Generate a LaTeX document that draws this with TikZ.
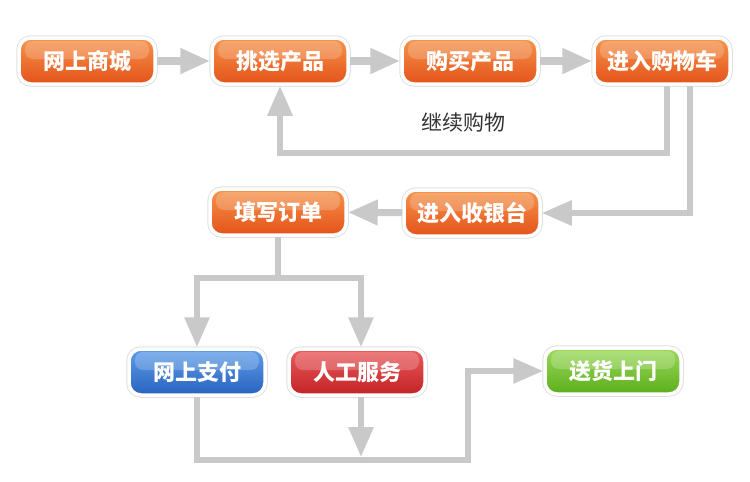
\documentclass[tikz,border=0pt]{standalone}
\usepackage{fontspec}
\newfontfamily\cjk{Noto Sans CJK SC}
\usetikzlibrary{arrows.meta}

\definecolor{linegray}{HTML}{C9C9C9}
\definecolor{ortop}{HTML}{F6954C}
\definecolor{ormid}{HTML}{F26C22}
\definecolor{orbot}{HTML}{E4521A}

\tikzset{
  box/.style={rounded corners=12pt, minimum width=136pt, minimum height=46pt,
    text=white, font=\cjk\bfseries\fontsize{22}{26}\selectfont,
    preaction={draw=black!12, line width=5.5pt},
    draw=white, line width=3.5pt,
    path picture={\fill[white, opacity=.2, rounded corners=8pt]
      ([xshift=6pt,yshift=-3pt]path picture bounding box.north west) rectangle
      ([xshift=-6pt,yshift=2pt]path picture bounding box.east);}},
  orangebox/.style={box, top color=ortop, middle color=ormid, bottom color=orbot},
  bluebox/.style={box, top color={rgb,255:red,96;green,158;blue,234}, middle color={rgb,255:red,58;green,126;blue,216}, bottom color={rgb,255:red,40;green,98;blue,190}},
  redbox/.style={box, top color={rgb,255:red,234;green,92;blue,92}, middle color={rgb,255:red,218;green,52;blue,54}, bottom color={rgb,255:red,194;green,34;blue,38}},
  greenbox/.style={box, top color={rgb,255:red,156;green,218;blue,92}, middle color={rgb,255:red,122;green,198;blue,56}, bottom color={rgb,255:red,92;green,174;blue,28}},
  flow/.style={draw=linegray, line width=6pt, -{Triangle[length=30pt,width=24pt]}},
}

\begin{document}
\begin{tikzpicture}[x=1pt, y=-1pt]
  \useasboundingbox (0,0) rectangle (750,482);

  % top row
  \node[orangebox] (mall) at (87,61) {网上商城};
  \node[orangebox] (pick) at (280,61) {挑选产品};
  \node[orangebox] (buy) at (470,61) {购买产品};
  \node[orangebox] (cart) at (662,61) {进入购物车};
  \foreach \a/\b in {mall/pick, pick/buy, buy/cart} {
    \draw[flow, line width=8pt] (\a) -- (\b);
  }

  % back to shopping
  \coordinate (back) at (0,153);
  \draw[flow] ([xshift=5pt]cart.south) |- (back -| pick.south) -- (pick.south);
  \node[font=\cjk\fontsize{21}{24}\selectfont, text=black!80] (again) at (463,123) {继续购物};

  % checkout
  \node[orangebox] (checkout) at (472,213) {进入收银台};
  \node[orangebox] (order) at (278,212) {填写订单};
  \draw[flow] ([xshift=28pt]cart.south) |- (checkout.east);
  \draw[flow, line width=7pt] (checkout) -- (order);

  % payment
  \node[bluebox] (pay) at (197,372) {网上支付};
  \node[redbox] (service) at (357,372) {人工服务};
  \node[greenbox] (ship) at (613,371) {送货上门};
  \coordinate (split) at (0,278);
  \draw[flow] (order.south) |- (split -| pay.north) -- (pay.north);
  \draw[flow] (order.south) |- ([xshift=4pt]split -| service.north) -- ([xshift=4pt]service.north);
  \coordinate (bend) at (468,460);
  \draw[flow] (pay.south) |- (bend) |- (ship.west);
  \draw[flow, shorten >=3pt] ([xshift=4pt]service.south) -- ([xshift=4pt]service.south |- bend);
\end{tikzpicture}
\end{document}
